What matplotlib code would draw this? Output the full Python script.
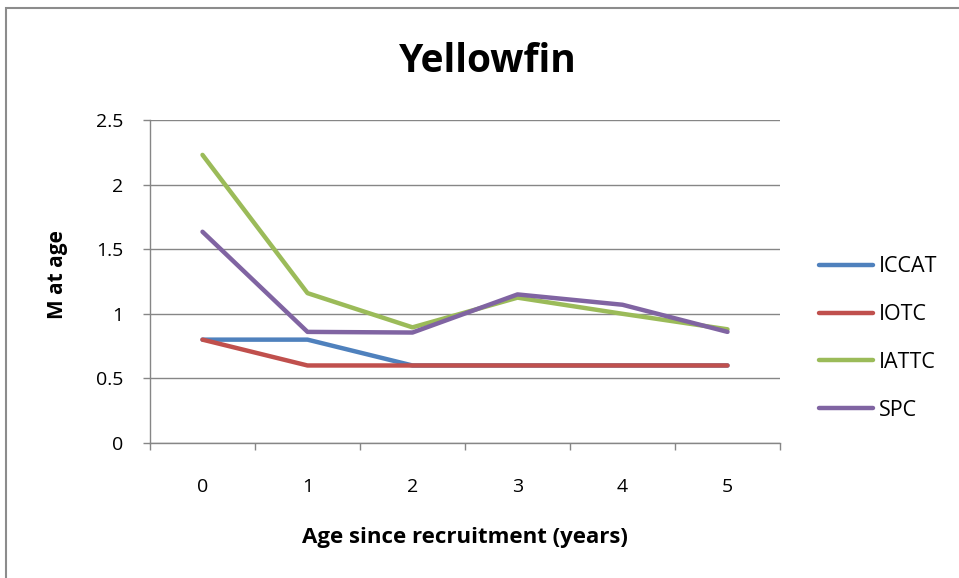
import matplotlib
matplotlib.use("Agg")
import matplotlib.pyplot as plt
from matplotlib.patches import Rectangle

ages = [0, 1, 2, 3, 4, 5]
iccat = [0.8, 0.8, 0.6, 0.6, 0.6, 0.6]
iotc = [0.8, 0.6, 0.6, 0.6, 0.6, 0.6]
iattc = [2.23, 1.16, 0.895, 1.125, 1.0, 0.88]
spc = [1.635, 0.86, 0.855, 1.15, 1.07, 0.86]
series_names = ["ICCAT", "IOTC", "IATTC", "SPC"]
colors = ["#4F81BD", "#C0504D", "#9BBB59", "#8064A2"]
yticks = [0, 0.5, 1, 1.5, 2, 2.5]
ytick_labels = ["0", "0.5", "1", "1.5", "2", "2.5"]

plt.rcParams['font.family'] = ['Open Sans', 'DejaVu Sans']

W, H = 959, 578
fig = plt.figure(figsize=(W / 100, H / 100), dpi=100)
fig.patches.append(Rectangle((6 / W, -0.2), 1.2, 1.2 - 8 / H, transform=fig.transFigure,
                             fill=False, edgecolor="#8c8c8c", linewidth=1.5))
ax = fig.add_axes([150 / W, 1 - 443 / H, 630 / W, 323 / H])

for vals, name, c in zip([iccat, iotc, iattc, spc], series_names, colors):
    ax.plot(ages, vals, color=c, linewidth=3.2, label=name, solid_capstyle='round')

ax.set_xlim(-0.5, 5.5)
ax.set_ylim(0, 2.5)
ax.set_yticks(yticks)
ax.set_yticklabels(ytick_labels)
ax.set_xticks(ages)
ax.set_xticks([x - 0.5 for x in range(7)], minor=True)
ax.tick_params(axis='x', which='major', length=0, pad=25, labelsize=14)
ax.tick_params(axis='x', which='minor', length=5, color="#868686", width=1)
ax.tick_params(axis='y', length=5, color="#868686", width=1, labelsize=14, pad=14)
ax.grid(axis='y', color="#868686", linewidth=1)
ax.set_axisbelow(True)
for s in ['top', 'right']:
    ax.spines[s].set_visible(False)
for s in ['left', 'bottom']:
    ax.spines[s].set_color("#868686")
    ax.spines[s].set_linewidth(1)

ax.set_xlabel("Age since recruitment (years)", fontsize=16, fontweight='bold', va='center')
ax.xaxis.set_label_coords((465 - 150) / 630, (443 - 538) / 323)
ax.set_ylabel("M at age", fontsize=15, fontweight='bold', va='center')
ax.yaxis.set_label_coords((58 - 150) / 630, (443 - 275) / 323)
fig.text(488 / W, 1 - 62 / H, "Yellowfin", ha='center', va='center', fontsize=28, fontweight='bold')

leg = ax.legend(loc='center left', bbox_to_anchor=((800 - 150) / 630, (443 - 338.5) / 323),
                frameon=False, fontsize=15.5, handlelength=2.5, handletextpad=0.25, labelspacing=1.25)

fig.savefig("out.png", dpi=100)
